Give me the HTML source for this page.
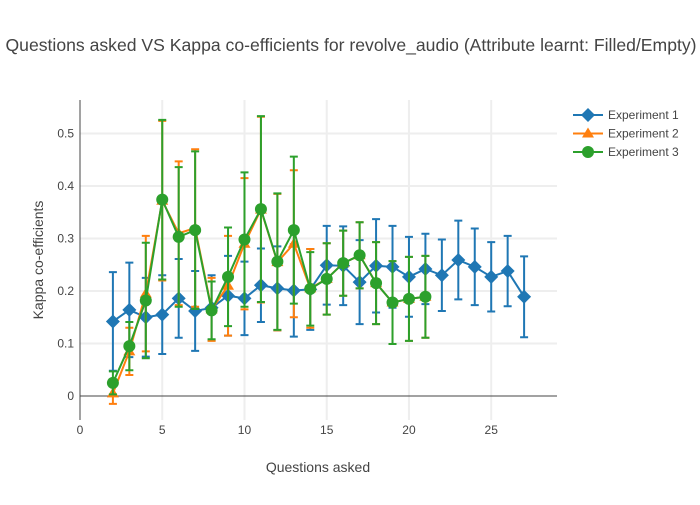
<!DOCTYPE html>
<html><head><meta charset="utf-8"><style>
body{margin:0;background:#fff;font-family:"Liberation Sans",sans-serif;}
svg text{font-family:"Liberation Sans",sans-serif;}
</style></head><body>
<svg id="chart" width="700" height="500" xmlns="http://www.w3.org/2000/svg">
<rect width="700" height="500" fill="#fff"/>
<text x="351" y="51" text-anchor="middle" font-size="17.6" fill="#444">Questions asked VS Kappa co-efficients for revolve_audio (Attribute learnt: Filled/Empty)</text>
<g id="grid"></g><g id="axes"></g><g id="series"></g>
<text x="318" y="472" text-anchor="middle" font-size="14" fill="#444">Questions asked</text>
<text transform="translate(43,260) rotate(-90)" text-anchor="middle" font-size="14" fill="#444">Kappa co-efficients</text>
<g id="legend"></g>
</svg>
<script>
const x1 = [2,3,4,5,6,7,8,9,10,11,12,13,14,15,16,17,18,19,20,21,22,23,24,25,26,27];
const y1 = [0.142,0.164,0.150,0.155,0.186,0.162,0.168,0.191,0.186,0.211,0.205,0.201,0.203,0.249,0.248,0.217,0.248,0.246,0.227,0.242,0.230,0.259,0.246,0.227,0.238,0.189];
const e1 = [0.094,0.09,0.075,0.075,0.075,0.076,0.062,0.076,0.07,0.07,0.08,0.088,0.077,0.075,0.075,0.08,0.089,0.078,0.076,0.067,0.068,0.075,0.073,0.066,0.067,0.077];
const x2 = [2,3,4,5,6,7,8,9,10,11,12,13,14,15,16,17,18,19,20,21];
const y2 = [0.005,0.085,0.195,0.372,0.31,0.32,0.165,0.21,0.29,0.355,0.255,0.29,0.205,0.223,0.253,0.268,0.215,0.178,0.185,0.189];
const e2 = [0.02,0.045,0.11,0.152,0.137,0.15,0.06,0.095,0.125,0.177,0.13,0.14,0.075,0.068,0.062,0.063,0.078,0.079,0.08,0.078];
const x3 = [2,3,4,5,6,7,8,9,10,11,12,13,14,15,16,17,18,19,20,21];
const y3 = [0.025,0.095,0.182,0.374,0.303,0.316,0.163,0.227,0.298,0.356,0.256,0.316,0.204,0.223,0.253,0.268,0.215,0.178,0.185,0.189];
const e3 = [0.022,0.046,0.11,0.152,0.133,0.15,0.055,0.094,0.128,0.177,0.13,0.14,0.07,0.068,0.062,0.063,0.078,0.079,0.08,0.078];
const xTicks = [0,5,10,15,20,25];
const yTicks = [0,0.1,0.2,0.3,0.4,0.5];
const seriesNames = ["Experiment 1","Experiment 2","Experiment 3"];

const L=80,R=557,T=100,B=420;
const sx=v=>L+(v-0)/(29-0)*(R-L);
const sy=v=>396-v*525;
const NS="http://www.w3.org/2000/svg";
function mk(tag,attrs,parent){const e=document.createElementNS(NS,tag);for(const k in attrs)e.setAttribute(k,attrs[k]);parent.appendChild(e);return e;}
const grid=document.getElementById('grid'),axes=document.getElementById('axes'),ser=document.getElementById('series'),leg=document.getElementById('legend');
xTicks.forEach(t=>{
  if(t>0){const g=mk('line',{x1:sx(t),x2:sx(t),y1:T,y2:B,stroke:'#eee','stroke-width':2},grid);
  
  }
  const tx=mk('text',{x:sx(t),y:434,'text-anchor':'middle','font-size':12,fill:'#444'},axes);tx.textContent=t;
  
  
});
yTicks.forEach(t=>{
  if(t>0){const g=mk('line',{x1:L,x2:R,y1:sy(t),y2:sy(t),stroke:'#eee','stroke-width':2},grid);
  
  }
  const tx=mk('text',{x:L-6,y:sy(t)+4,'text-anchor':'end','font-size':12,fill:'#444'},axes);tx.textContent=t;
  
  
});
const zl=mk('line',{x1:L,x2:R,y1:sy(0),y2:sy(0),stroke:'#444','stroke-width':1},axes);


const ya=mk('line',{x1:L,x2:L,y1:T,y2:B,stroke:'#444','stroke-width':1},axes);



function marker(type,cx,cy,color,parent){
  let m;
  if(type==='d')m=mk('path',{d:`M${cx},${cy-7}L${cx+7},${cy}L${cx},${cy+7}L${cx-7},${cy}Z`,fill:color},parent);
  else if(type==='t')m=mk('path',{d:`M${cx},${cy-6}L${cx+6},${cy+4}L${cx-6},${cy+4}Z`,fill:color},parent);
  else m=mk('circle',{cx:cx,cy:cy,r:6,fill:color},parent);
  return m;
}
function drawSeries(xs,ys,es,color,type,name){
  const g=mk('g',{},ser);
  
  
  xs.forEach((x,i)=>{
    const cx=sx(x),t=sy(ys[i]+es[i]),b=sy(ys[i]-es[i]);
    const eb=mk('path',{d:`M${cx},${t}V${b}M${cx-4},${t}H${cx+4}M${cx-4},${b}H${cx+4}`,stroke:color,'stroke-width':2,fill:'none'},g);
    
    
  });
  const ln=mk('polyline',{points:xs.map((x,i)=>sx(x)+','+sy(ys[i])).join(' '),stroke:color,'stroke-width':2,fill:'none'},g);
  
  
  xs.forEach((x,i)=>{
    const m=marker(type,sx(x),sy(ys[i]),color,g);
    
    
  });
}
drawSeries(x1,y1,e1,'#1f77b4','d','series-experiment-1');
drawSeries(x2,y2,e2,'#ff7f0e','t','series-experiment-2');
drawSeries(x3,y3,e3,'#2ca02c','c','series-experiment-3');
const cols=['#1f77b4','#ff7f0e','#2ca02c'],types=['d','t','c'];
seriesNames.forEach((n,i)=>{
  const y=115+i*18.5;
  const g=mk('g',{},leg);
  
  
  mk('line',{x1:573,x2:603,y1:y,y2:y,stroke:cols[i],'stroke-width':2},g);
  marker(types[i],588,y,cols[i],g);
  const t=mk('text',{x:608,y:y+4,'font-size':12,fill:'#444'},g);t.textContent=n;
});
</script>
</body></html>
